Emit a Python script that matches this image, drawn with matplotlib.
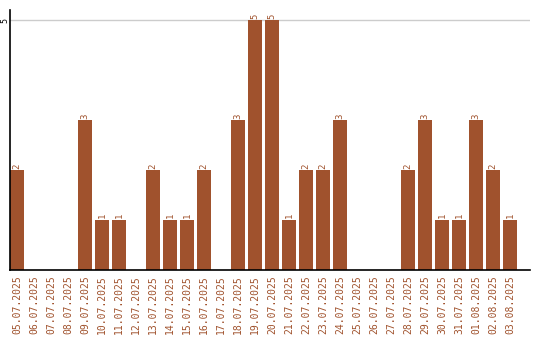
import matplotlib
matplotlib.use("Agg")
import matplotlib.pyplot as plt

dates = ["05.07.2025", "06.07.2025", "07.07.2025", "08.07.2025", "09.07.2025",
         "10.07.2025", "11.07.2025", "12.07.2025", "13.07.2025", "14.07.2025",
         "15.07.2025", "16.07.2025", "17.07.2025", "18.07.2025", "19.07.2025",
         "20.07.2025", "21.07.2025", "22.07.2025", "23.07.2025", "24.07.2025",
         "25.07.2025", "26.07.2025", "27.07.2025", "28.07.2025", "29.07.2025",
         "30.07.2025", "31.07.2025", "01.08.2025", "02.08.2025", "03.08.2025"]
values = [2, 0, 0, 0, 3, 1, 1, 0, 2, 1, 1, 2, 0, 3, 5, 5, 1, 2, 2, 3,
          0, 0, 0, 2, 3, 1, 1, 3, 2, 1]

color = "#A0522D"
fig = plt.figure(figsize=(5.4, 3.4), dpi=100)
ax = fig.add_axes([10/540, 70/340, 520/540, 260/340])

slot = 17.0
bw = 14/slot
xs = list(range(len(values)))
ax.bar(xs, values, width=bw, align="edge", color=color, zorder=2)
for x, v in zip(xs, values):
    if v > 0:
        ax.text(x + bw/2, v + 0.03, str(v), rotation=90, ha="center", va="bottom",
                color=color, fontsize=6.5, family="DejaVu Sans Mono")

ax.set_xlim(0, 520/slot)
ax.set_ylim(0, 5.2)
ax.set_yticks([5])
ax.set_yticklabels(["5"], rotation=90, va="center", ha="center", fontsize=6,
                   family="DejaVu Sans Mono")
ax.axhline(5, color="#cccccc", lw=1, zorder=1)
ax.set_xticks([x + bw/2 for x in xs])
ax.set_xticklabels(dates, rotation=90, color=color, fontsize=7, family="DejaVu Sans Mono")
ax.tick_params(axis="both", length=0, pad=4)
ax.tick_params(axis="y", pad=3.6)
for s in ["top", "right"]:
    ax.spines[s].set_visible(False)
ax.spines["left"].set_linewidth(1.2)
ax.spines["bottom"].set_linewidth(1.2)
fig.savefig("out.png", dpi=100)
